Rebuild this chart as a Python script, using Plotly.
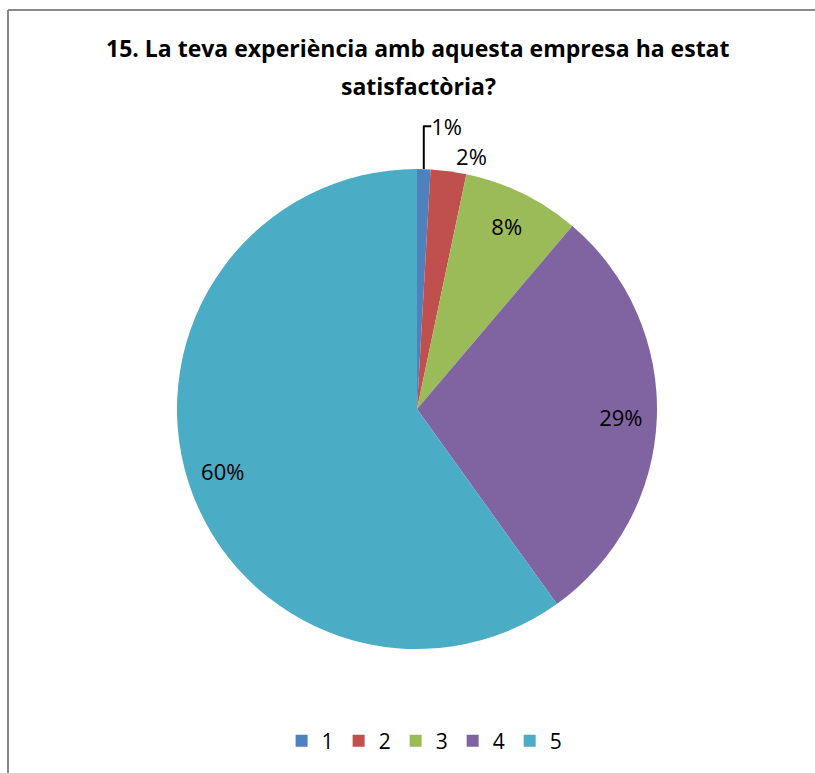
import plotly.graph_objects as go

categories = ["1", "2", "3", "4", "5"]
values = [0.9, 2.4, 7.9, 28.9, 59.9]
colors = ["#4F81BD", "#C0504D", "#9BBB59", "#8064A2", "#4BACC6"]
title_lines = ["15. La teva experiència amb aquesta empresa ha estat", "satisfactòria?"]

W, H = 815, 773
cx, cy, r = 417, 409, 240
FONT = "Open Sans"
dom = dict(x=[(cx - r) / W, (cx + r) / W], y=[1 - (cy + r) / H, 1 - (cy - r) / H])

# main pie (slices, legend, outside labels for the tiny slices)
pie_main = go.Pie(
    labels=categories,
    values=values,
    sort=False,
    direction="clockwise",
    rotation=0,
    marker=dict(colors=colors, line=dict(width=0)),
    texttemplate=["%{percent:.0%}", "%{percent:.0%}", "", "", ""],
    textposition=["outside", "outside", "none", "none", "none"],
    outsidetextfont=dict(family=FONT, size=22, color="#000000"),
    domain=dom,
    automargin=False,
    hoverinfo="label+percent",
)

# transparent ring carrying the inside labels near the rim (like Excel "best fit")
pie_labels = go.Pie(
    labels=categories,
    values=values,
    sort=False,
    direction="clockwise",
    rotation=0,
    hole=0.7,
    marker=dict(colors=["rgba(0,0,0,0)"] * 5, line=dict(width=0)),
    texttemplate=["", "", "%{percent:.0%}", "%{percent:.0%}", "%{percent:.0%}"],
    textposition=["none", "none", "inside", "inside", "inside"],
    insidetextorientation="horizontal",
    insidetextfont=dict(family=FONT, size=22, color="#000000"),
    domain=dom,
    showlegend=False,
    hoverinfo="skip",
)

fig = go.Figure([pie_main, pie_labels])

fig.update_layout(
    width=W, height=H,
    margin=dict(l=0, r=0, t=0, b=0),
    paper_bgcolor="white",
    showlegend=True,
    legend=dict(orientation="h", x=0.521, xanchor="center", y=1 - 741 / H, yanchor="middle",
                font=dict(family=FONT, size=21, color="#000000"), itemwidth=30, traceorder="normal"),
    annotations=[
        dict(text="<b>%s</b>" % title_lines[0], x=418 / W, y=1 - 48 / H, xref="paper", yref="paper",
             showarrow=False, xanchor="center", yanchor="middle",
             font=dict(family=FONT, size=23, color="#000000")),
        dict(text="<b>%s</b>" % title_lines[1], x=418 / W, y=1 - 86 / H, xref="paper", yref="paper",
             showarrow=False, xanchor="center", yanchor="middle",
             font=dict(family=FONT, size=23, color="#000000")),
    ],
    shapes=[
        dict(type="line", xref="paper", yref="paper", x0=8 / W, x1=1, y0=1 - 10 / H, y1=1 - 10 / H,
             line=dict(color="#898989", width=2)),
        dict(type="line", xref="paper", yref="paper", x0=8 / W, x1=8 / W, y0=0, y1=1 - 10 / H,
             line=dict(color="#898989", width=2)),
    ],
)

fig.write_html("out.html", config={"displayModeBar": False},
               post_script="document.body.style.margin='0';")
